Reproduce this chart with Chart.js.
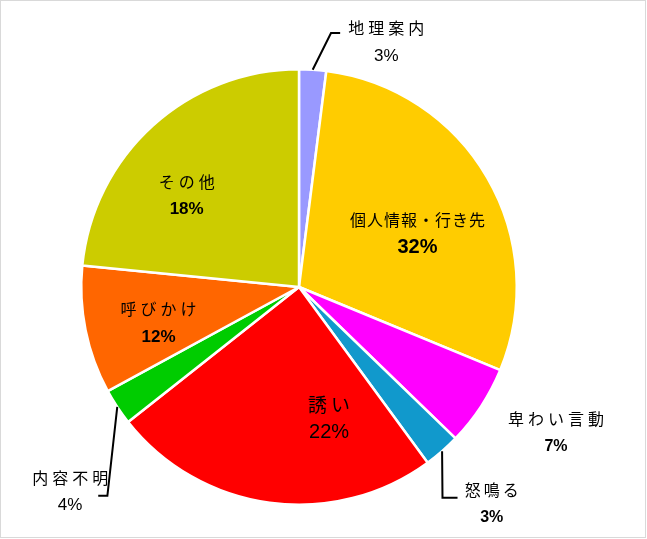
<!DOCTYPE html>
<html>
<head>
<meta charset="utf-8">
<script src="https://cdn.jsdelivr.net/npm/chart.js@4.4.1/dist/chart.umd.min.js"></script>
<style>
  html, body { margin: 0; padding: 0; background: #ffffff; }
  #wrap { position: relative; width: 647px; height: 539px; }
</style>
</head>
<body>
<div id="wrap"><canvas id="c"></canvas></div>
<script>
// ---- data ----
const categories = ['地理案内', '個人情報・行き先', '卑わい言動', '怒鳴る', '誘い', '内容不明', '呼びかけ', 'その他'];
const sliceValues = [2.0, 29.2, 6.0, 2.7, 24.4, 2.7, 9.5, 23.4];
const percentLabels = [3, 32, 7, 3, 22, 4, 12, 18];

// ---- styles / layout ----
const sliceColors = ['#9999FF', '#FFCC00', '#FF00FF', '#1199CC', '#FF0000', '#00CC00', '#FF6600', '#CCCC00'];
// name-label centre relative to pie centre, in units of the pie radius
const labelPos = [
  [0.401, -1.189], [0.544, -0.309], [1.180, 0.604], [0.885, 0.931],
  [0.138, 0.539], [-1.051, 0.876], [-0.645, 0.101], [-0.516, -0.484]
];
// [nameSize, nameSpacing, pctSize, pctBold]
const labelStyle = [
  [16, 4, 17, false], [16, 1, 20, true], [16, 4, 16, true], [16, 3, 16, true],
  [19, 4, 20, false], [16, 4, 17, false], [16, 4, 17, true], [16, 4, 17, true]
];
// leader lines: elbow and end points in radius units (start = arc edge at mid angle)
const leaders = {
  0: [[0.147, -1.166], [0.189, -1.166]],
  3: [[0.659, 0.968], [0.728, 0.968]],
  5: [[-0.880, 0.959], [-0.922, 0.959]]
};

const labelPlugin = {
  id: 'labels',
  afterDatasetsDraw(chart) {
    const ctx = chart.ctx;
    const meta = chart.getDatasetMeta(0);
    ctx.save();
    meta.data.forEach((arc, i) => {
      const p = arc.getProps(['x', 'y', 'startAngle', 'endAngle', 'outerRadius'], true);
      const R = p.outerRadius;
      // leader line
      if (leaders[i]) {
        const mid = (p.startAngle + p.endAngle) / 2;
        ctx.beginPath();
        ctx.moveTo(p.x + Math.cos(mid) * R, p.y + Math.sin(mid) * R);
        leaders[i].forEach(pt => ctx.lineTo(p.x + pt[0] * R, p.y + pt[1] * R));
        ctx.strokeStyle = '#000000';
        ctx.lineWidth = 2;
        ctx.stroke();
      }
      const st = labelStyle[i];
      const nx = p.x + labelPos[i][0] * R;
      const ny = p.y + labelPos[i][1] * R;
      ctx.fillStyle = '#000000';
      ctx.textAlign = 'center';
      ctx.textBaseline = 'middle';
      ctx.font = st[0] + 'px "Noto Sans CJK JP", sans-serif';
      if ('letterSpacing' in ctx) ctx.letterSpacing = st[1] + 'px';
      ctx.fillText(categories[i], nx + st[1] / 2, ny);
      if ('letterSpacing' in ctx) ctx.letterSpacing = '0px';
      ctx.font = (st[3] ? 'bold ' : '') + st[2] + 'px "Liberation Sans", Arial, sans-serif';
      ctx.fillText(percentLabels[i] + '%', nx, ny + 28);
    });
    ctx.restore();
  },
  afterDraw(chart) {
    const ctx = chart.ctx;
    ctx.save();
    ctx.strokeStyle = '#d9d9d9';
    ctx.lineWidth = 1;
    ctx.strokeRect(0.5, 0.5, 645, 537);
    ctx.restore();
  }
};

new Chart(document.getElementById('c'), {
  type: 'pie',
  data: {
    labels: categories,
    datasets: [{
      data: sliceValues,
      backgroundColor: sliceColors,
      borderColor: '#ffffff',
      borderWidth: 2.5
    }]
  },
  options: {
    responsive: true,
    maintainAspectRatio: false,
    animation: false,
    layout: { padding: { left: 80, right: 129, top: 68, bottom: 33 } },
    plugins: {
      legend: { display: false },
      tooltip: { enabled: false }
    }
  },
  plugins: [labelPlugin]
});
</script>
</body>
</html>
